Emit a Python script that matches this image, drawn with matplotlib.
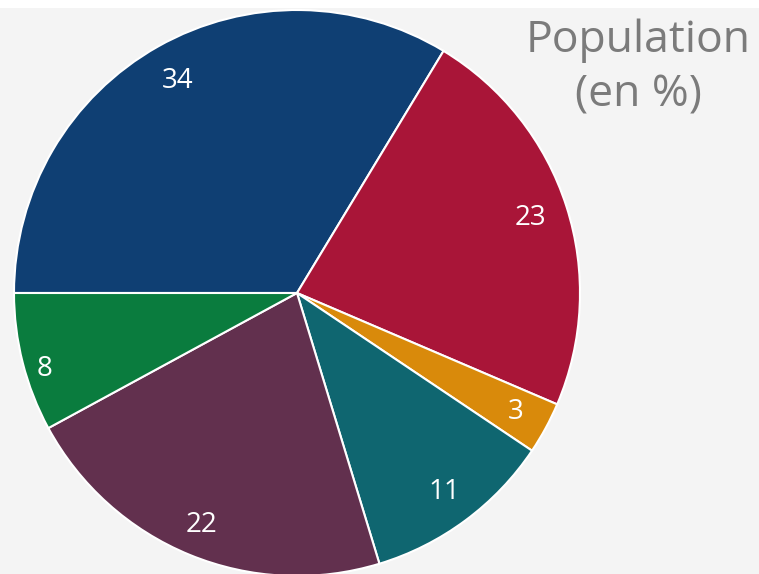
import matplotlib
matplotlib.use('Agg')
import matplotlib.pyplot as plt
import matplotlib.patches as mpatches
import numpy

# data (values as shown, in %)
values = [34, 23, 3, 11, 22, 8]
labels = ['34', '23', '3', '11', '22', '8']
colors = ['#0f3f73', '#a91538', '#d98a0b', '#0f6670', '#62304e', '#0a7c3e']
title = 'Population\n(en %)'

# label distance per wedge (fraction of radius)
label_r = [0.86, 0.865, 0.88, 0.876, 0.887, 0.925]

W, H = 759, 574
fig = plt.figure(figsize=(W / 100, H / 100), dpi=100)
fig.patch.set_facecolor('#f4f4f4')

# white strip along the top
fig.patches.append(mpatches.Rectangle((0, 1 - 8 / H), 1, 8 / H, transform=fig.transFigure,
                                      facecolor='white', edgecolor='none', zorder=0))

# pie centre ~ (297, 293) px, radius ~ 283 px
cx, cy, r = 297, 293, 283
ax = fig.add_axes([(cx - r) / W, (H - cy - r) / H, 2 * r / W, 2 * r / H])
ax.set_facecolor('none')

wedges, texts = ax.pie(values, colors=colors, startangle=180, counterclock=False,
                       radius=1, labels=labels, labeldistance=0.88,
                       wedgeprops=dict(edgecolor='white', linewidth=1.5),
                       textprops=dict(color='white', fontsize=20, family=['Open Sans', 'DejaVu Sans']))

# reposition labels with the per-wedge distance
for w, t, d in zip(wedges, texts, label_r):
    ang = numpy.deg2rad((w.theta1 + w.theta2) / 2)
    t.set_position((d * numpy.cos(ang), d * numpy.sin(ang)))
    t.set_ha('center')
    t.set_va('center')
# the small green one sits a bit lower in the original
texts[-1].set_position((texts[-1].get_position()[0] + 0.005, texts[-1].get_position()[1] - 0.04))

ax.set_xlim(-1, 1)
ax.set_ylim(-1, 1)
ax.set_aspect('equal')
ax.axis('off')

fig.text(638 / W, 1 - 68 / H, title, ha='center', va='center', color='#7b7b7b',
         fontsize=32, family=['Open Sans', 'DejaVu Sans'], linespacing=1.32)

plt.savefig('out.png', dpi=100, facecolor=fig.get_facecolor())
